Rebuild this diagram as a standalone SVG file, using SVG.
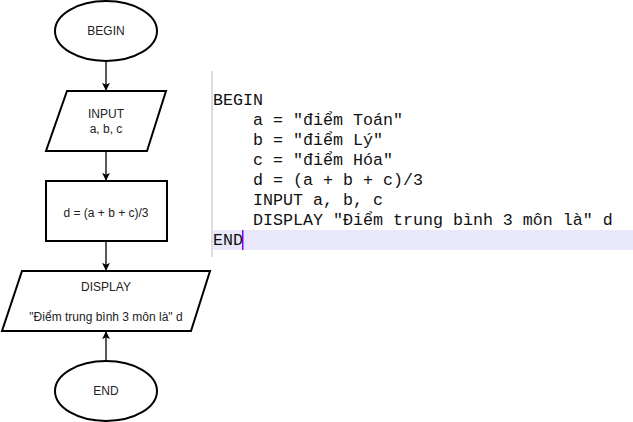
<svg xmlns="http://www.w3.org/2000/svg" width="633" height="422" viewBox="0 0 633 422">
<style>
.shape{fill:#ffffff;stroke:#000000;stroke-width:2}
.lbl{font-family:"Liberation Sans",Arial,sans-serif;font-size:12px;fill:#222222;text-anchor:middle}
.edge{stroke:#000000;stroke-width:1.3;fill:none}
.code{font-family:"Liberation Mono","Courier New",monospace;font-size:16.67px;fill:#111111;white-space:pre}
</style>
<defs>
<marker id="arr" viewBox="0 0 10 10" refX="9" refY="5" markerWidth="8" markerHeight="8" markerUnits="userSpaceOnUse" orient="auto">
<path d="M0,0 L10,5 L0,10 L2.5,5 Z" fill="#000000"/>
</marker>
</defs>
<rect width="633" height="422" fill="#ffffff"/>
<g id="connectors">
<line class="edge" x1="106" y1="61" x2="106" y2="90" marker-end="url(#arr)"/>
<line class="edge" x1="106" y1="151" x2="106" y2="180" marker-end="url(#arr)"/>
<line class="edge" x1="106" y1="242" x2="106" y2="270" marker-end="url(#arr)"/>
<line class="edge" x1="106" y1="361" x2="106" y2="332" marker-end="url(#arr)"/>
</g>
<g id="begin">
<ellipse class="shape" cx="106" cy="31" rx="51" ry="30"/>
<text class="lbl" x="106" y="35">BEGIN</text>
</g>
<g id="input">
<polygon class="shape" points="67,91 166,91 147,151 46,151"/>
<text class="lbl" x="106" y="118">INPUT</text>
<text class="lbl" x="106" y="133">a, b, c</text>
</g>
<g id="process">
<rect class="shape" x="46" y="181" width="121" height="60"/>
<text class="lbl" x="106" y="217">d = (a + b + c)/3</text>
</g>
<g id="display">
<polygon class="shape" points="22,271 210,271 191,331 2,331"/>
<text class="lbl" x="106" y="291">DISPLAY</text>
<text class="lbl" x="106" y="321">"Điểm trung bình 3 môn là" d</text>
</g>
<g id="end">
<ellipse class="shape" cx="106" cy="391" rx="51" ry="30"/>
<text class="lbl" x="106" y="395">END</text>
</g>
<g id="code">
<rect x="213" y="230" width="420" height="20" fill="#e8e8fa"/>
<rect x="211" y="71" width="2" height="186" fill="#dcdcdc"/>
<text class="code" x="213" y="105">BEGIN</text>
<text class="code" x="213" y="125">    a = "điểm Toán"</text>
<text class="code" x="213" y="145">    b = "điểm Lý"</text>
<text class="code" x="213" y="165">    c = "điểm Hóa"</text>
<text class="code" x="213" y="185">    d = (a + b + c)/3</text>
<text class="code" x="213" y="205">    INPUT a, b, c</text>
<text class="code" x="213" y="225">    DISPLAY "Điểm trung bình 3 môn là" d</text>
<text class="code" x="213" y="245">END</text>
<rect x="242" y="230" width="1.5" height="20" fill="#8000ff"/>
</g>
</svg>
